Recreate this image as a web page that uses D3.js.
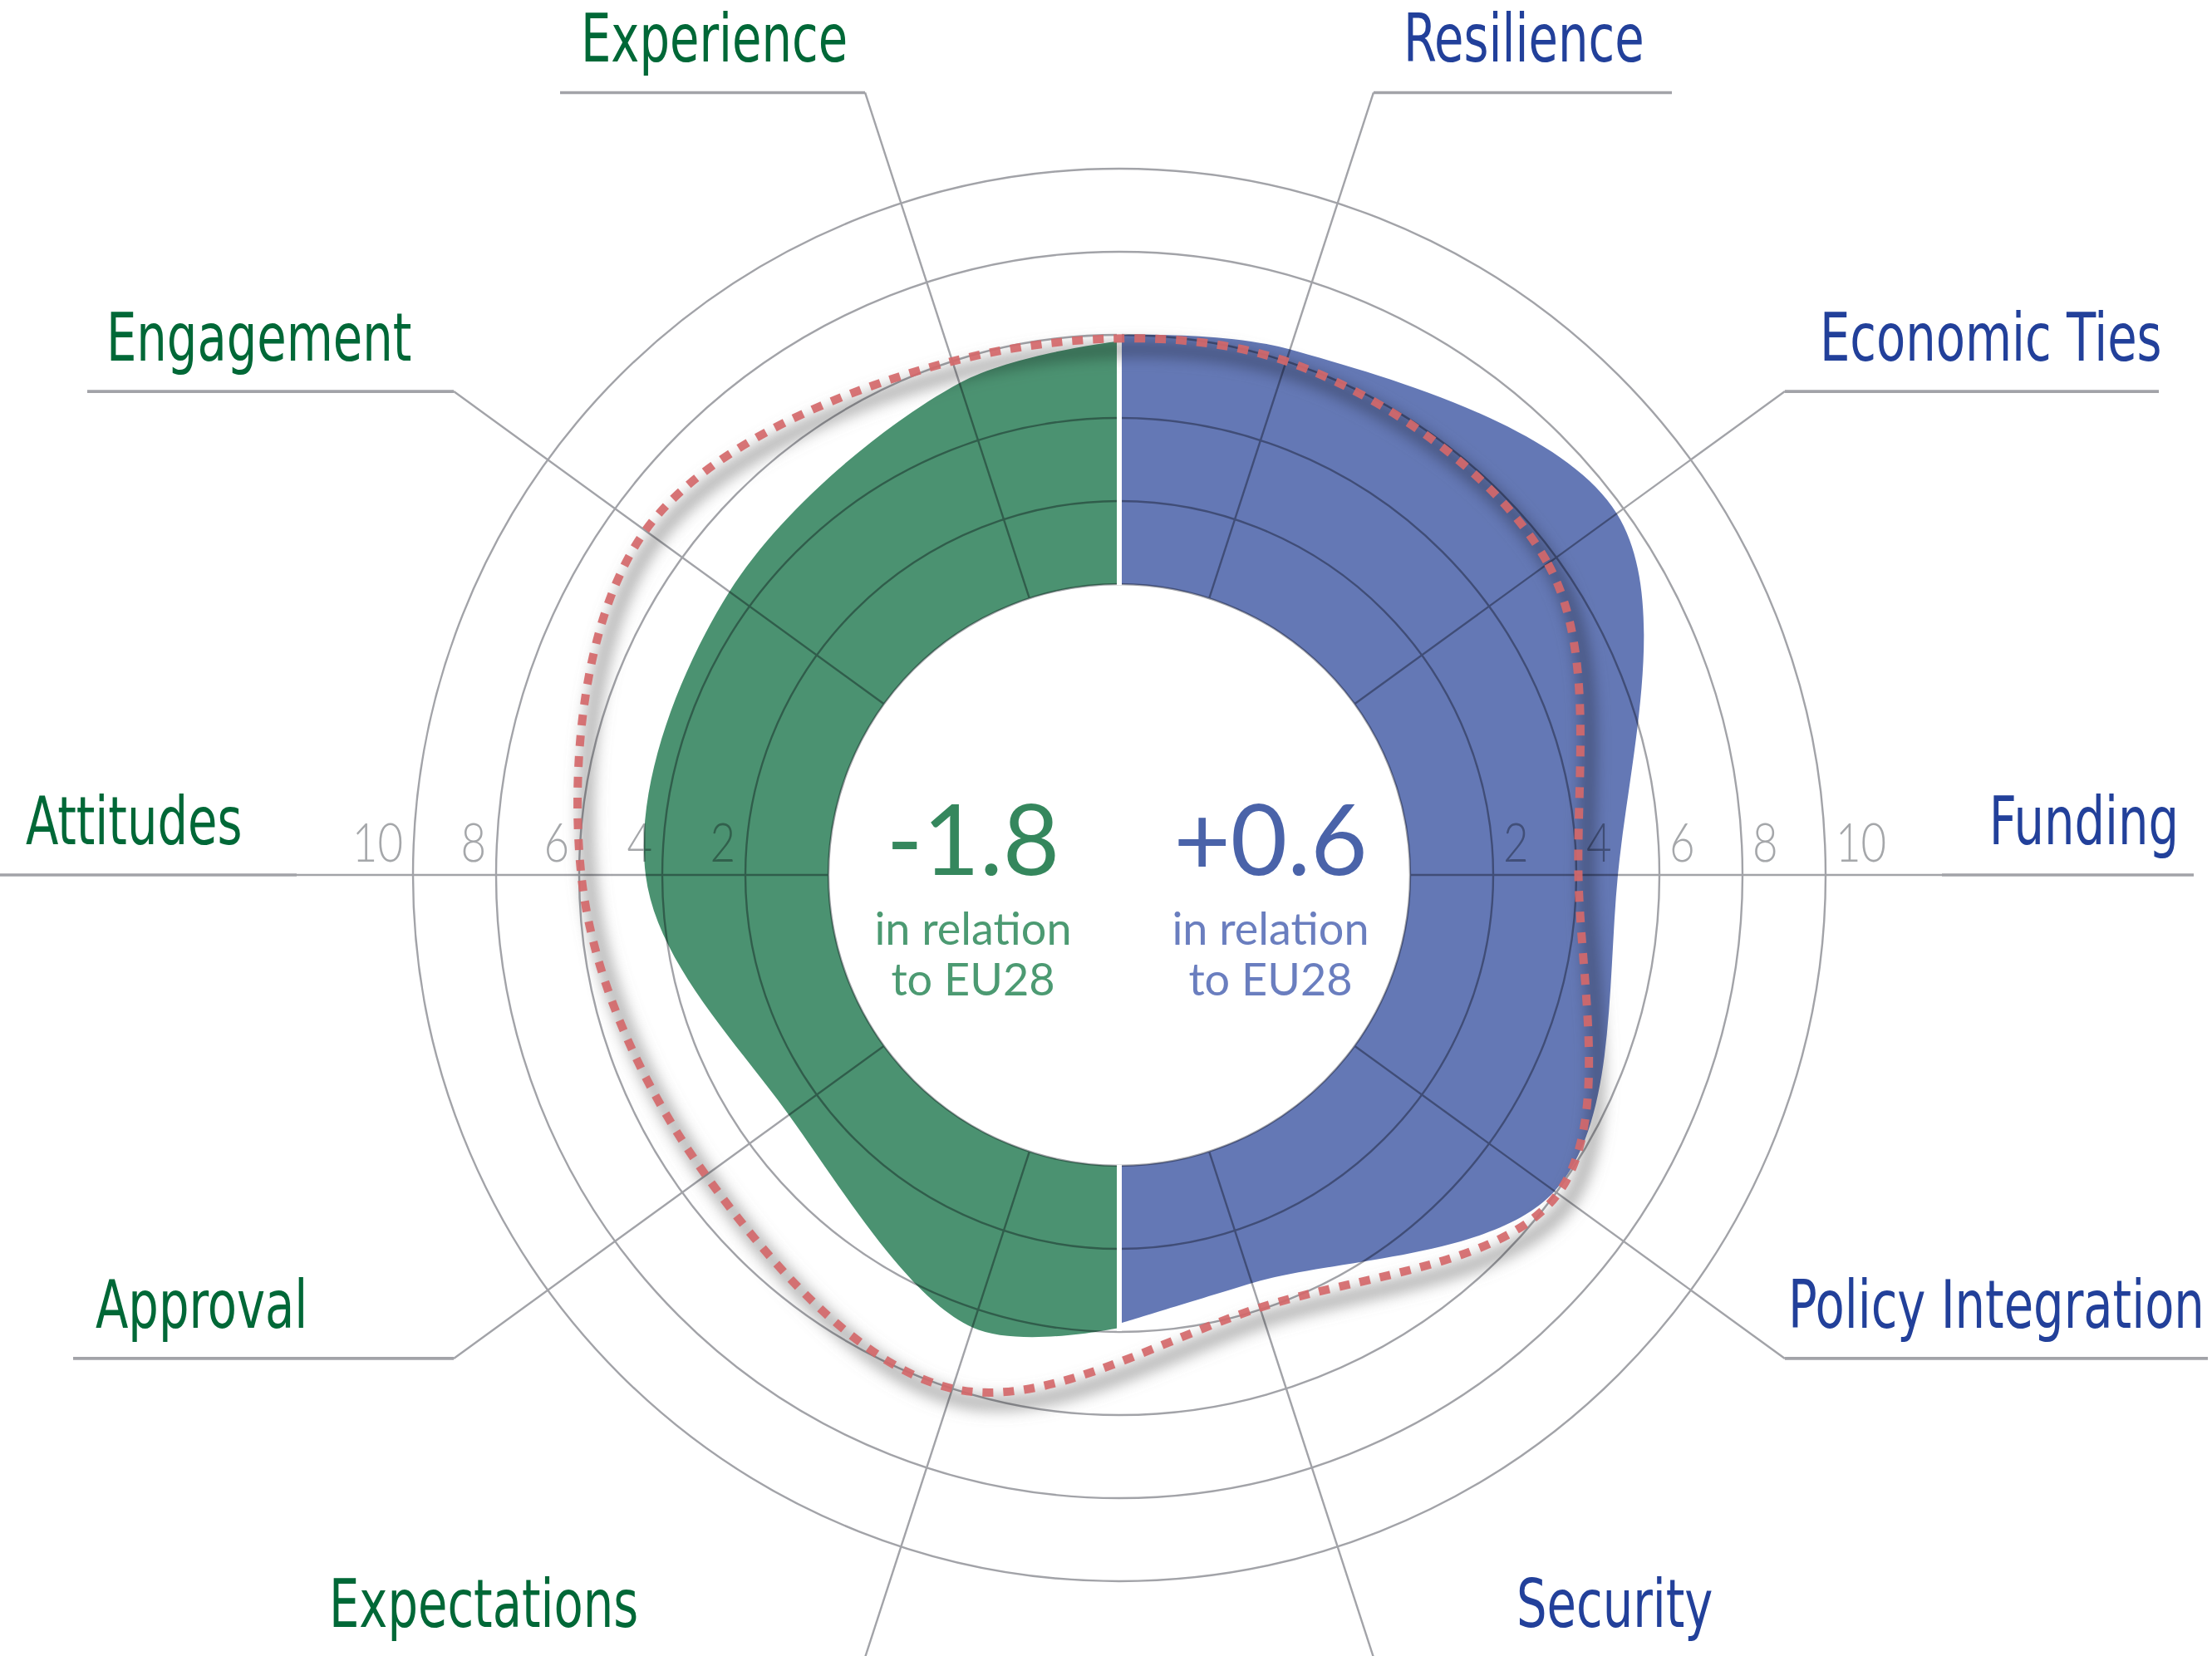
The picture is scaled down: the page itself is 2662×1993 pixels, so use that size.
<!DOCTYPE html>
<meta charset="utf-8">
<head>
  <title>EU28 radar</title>
  <script src="https://d3js.org/d3.v7.min.js"></script>
  <style>
    body { margin: 0; background: #fff; }
    .lbl { font-family: "Liberation Sans Narrow", "Arial Narrow", "DejaVu Sans Condensed", sans-serif; }
    .num { font-family: Lato, "Open Sans", sans-serif; }
  </style>
</head>
<body>
<div id="display"></div>
<script>

// axes, clockwise from 12 o'clock
var axes = ["Resilience", "Economic Ties", "Funding", "Policy Integration", "Security",
            "Expectations", "Approval", "Attitudes", "Engagement", "Experience"];
var axisAngles = [18, 54, 90, 126, 162, 198, 234, 270, 306, 342];

// right half (blue): top of divider, Resilience .. Security, bottom of divider
var blueAngles = [0, 18, 54, 90, 126, 162, 180];
var blueValues = [6.0, 6.3, 7.8, 5.0, 5.95, 3.33, 3.8];

// left half (green): top of divider, Experience .. Expectations, bottom of divider
var greenAngles = [0, -18, -54, -90, -126, -162, -180];
var greenValues = [5.85, 5.45, 4.6, 4.4, 2.83, 4.45, 3.9];

// EU28 reference outline, one value per axis
var eu28Values = [6.0, 5.75, 4.05, 6.05, 3.95, 6.0, 5.3, 5.95, 7.1, 6.0];

var ticks = [2, 4, 6, 8, 10];
var scoreGreen = "-1.8", scoreBlue = "+0.6";
var subText = ["in relation", "to EU28"];

// leader lines / label placement (layout only)
var labelLayout = {
  "Resilience":         {to: 2012, tx: 1689, anchor: "start"},
  "Economic Ties":      {to: 2598, tx: 2190, anchor: "start"},
  "Funding":            {to: 2640, tx: 2622, anchor: "end"},
  "Policy Integration": {to: 2657, tx: 2152, anchor: "start"},
  "Security":           {to: 2110, tx: 1825, anchor: "start"},
  "Expectations":       {to: 370,  tx: 396,  anchor: "start"},
  "Approval":           {to: 88,   tx: 115,  anchor: "start"},
  "Attitudes":          {to: 0,    tx: 31,   anchor: "start"},
  "Engagement":         {to: 105,  tx: 128,  anchor: "start"},
  "Experience":         {to: 674,  tx: 699,  anchor: "start"}
};

var width = 2662, height = 1993,
    cx = 1347, cy = 1053,
    spokeEnd = 990;

var green = "#4b9271", blue = "#6478b5",
    greenText = "#006837", blueText = "#22409a",
    gridColor = "#a2a3a8";

var r = d3.scaleLinear().domain([0, 10]).range([350, 850]);
var r0 = r(0);
var rad = Math.PI / 180;

var svg = d3.select("#display")
  .append("svg")
    .attr("width", width)
    .attr("height", height)
    .style("display", "block");

var defs = svg.append("defs");
defs.append("filter")
    .attr("id", "blur")
    .attr("x", "-20%").attr("y", "-20%")
    .attr("width", "140%").attr("height", "140%")
  .append("feGaussianBlur")
    .attr("stdDeviation", 9);

var g = svg.append("g")
    .attr("transform", "translate(" + cx + "," + cy + ")");

// half shapes
function halfPath(angles, values, sweep) {
  var line = d3.lineRadial()
      .angle(function(d) { return d[0] * rad; })
      .radius(function(d) { return r(d[1]); })
      .curve(d3.curveCatmullRom.alpha(0.5));
  var d = line(angles.map(function(a, i) { return [a, values[i]]; }));
  return d + "L0," + r0 + "A" + r0 + "," + r0 + " 0 0," + sweep + " 0," + (-r0) + "Z";
}

g.append("path")
    .attr("d", halfPath(blueAngles, blueValues, 0))
    .attr("fill", blue);

g.append("path")
    .attr("d", halfPath(greenAngles, greenValues, 1))
    .attr("fill", green);

// grid, multiplied so it shows darker on the fills
var grid = g.append("g")
    .style("mix-blend-mode", "multiply")
    .attr("fill", "none")
    .attr("stroke", gridColor);

grid.selectAll(".ring")
  .data([0].concat(ticks))
  .enter()
  .append("circle")
    .attr("class", "ring")
    .attr("r", function(d) { return r(d); })
    .attr("stroke-width", 2.4);

axes.forEach(function(name, i) {
  var a = axisAngles[i] * rad;
  var sx = Math.sin(a), sy = -Math.cos(a);
  var ex = spokeEnd * sx, ey = spokeEnd * sy;
  grid.append("line")
      .attr("x1", r0 * sx).attr("y1", r0 * sy)
      .attr("x2", ex).attr("y2", ey)
      .attr("stroke-width", 2.4);
  // bottom leaders fall just below the page edge
  if (cy + ey < height - 6) {
    grid.append("line")
        .attr("x1", ex).attr("y1", ey)
        .attr("x2", labelLayout[name].to - cx).attr("y2", ey)
        .attr("stroke-width", 3.6);
  }
});

// tick labels on the horizontal axis
var tickG = g.append("g")
    .attr("class", "num")
    .style("mix-blend-mode", "multiply")
    .attr("fill", "#a5a7aa")
    .attr("font-size", 66)
    .attr("font-weight", 300);

tickG.selectAll(".tl")
  .data(ticks)
  .enter()
  .append("text")
    .attr("transform", function(d) { return "translate(" + (-r(d) - 12) + ",-16) scale(0.8,1)"; })
    .attr("text-anchor", "end")
    .text(function(d) { return d; });

tickG.selectAll(".tr")
  .data(ticks)
  .enter()
  .append("text")
    .attr("transform", function(d) { return "translate(" + (r(d) + 12) + ",-16) scale(0.8,1)"; })
    .attr("text-anchor", "start")
    .text(function(d) { return d; });

// white divider between the halves
var topY = -r(Math.max(blueValues[0], greenValues[0])) - 4;
var botY = r(Math.max(blueValues[6], greenValues[6])) + 4;
g.append("line")
    .attr("x1", 0).attr("x2", 0)
    .attr("y1", topY).attr("y2", -r0 + 1)
    .attr("stroke", "#fff").attr("stroke-width", 6);
g.append("line")
    .attr("x1", 0).attr("x2", 0)
    .attr("y1", r0 - 1).attr("y2", botY)
    .attr("stroke", "#fff").attr("stroke-width", 6);

// EU28 outline with soft shadow
var euLine = d3.lineRadial()
    .angle(function(d, i) { return axisAngles[i] * rad; })
    .radius(function(d) { return r(d); })
    .curve(d3.curveCatmullRomClosed.alpha(0.5));

g.append("path")
    .attr("d", euLine(eu28Values))
    .attr("transform", "translate(10,13)")
    .attr("fill", "none")
    .attr("stroke", "#6f6f6f")
    .attr("stroke-width", 16)
    .attr("opacity", 0.6)
    .attr("filter", "url(#blur)")
    .style("mix-blend-mode", "multiply");

g.append("path")
    .attr("d", euLine(eu28Values))
    .attr("fill", "none")
    .attr("stroke", "#d4686a")
    .attr("stroke-opacity", 0.92)
    .attr("stroke-width", 10)
    .attr("stroke-dasharray", "13 12");

// axis labels
axes.forEach(function(name, i) {
  var a = axisAngles[i] * rad;
  var ey = cy - spokeEnd * Math.cos(a);
  var lay = labelLayout[name];
  svg.append("text")
      .attr("class", "lbl")
      .attr("transform", "translate(" + lay.tx + "," + (ey - 37) + ") scale(0.8,1)")
      .attr("text-anchor", lay.anchor)
      .attr("font-size", 80)
      .attr("fill", axisAngles[i] < 180 ? blueText : greenText)
      .text(name);
});

// centre scores
function score(x, value, col, subCol) {
  var t = svg.append("g").attr("class", "num").attr("text-anchor", "middle");
  t.append("text")
      .attr("x", x).attr("y", cy)
      .attr("font-size", 118)
      .attr("fill", col)
      .text(value);
  subText.forEach(function(s, i) {
    t.append("text")
        .attr("x", x).attr("y", cy + 84 + i * 61)
        .attr("font-size", 54)
        .attr("fill", subCol)
        .text(s);
  });
}
score(cx - 176, scoreGreen, "#35875d", "#4c9a72");
score(cx + 182, scoreBlue, "#4a63a9", "#6a7ebf");

</script>
</body>
